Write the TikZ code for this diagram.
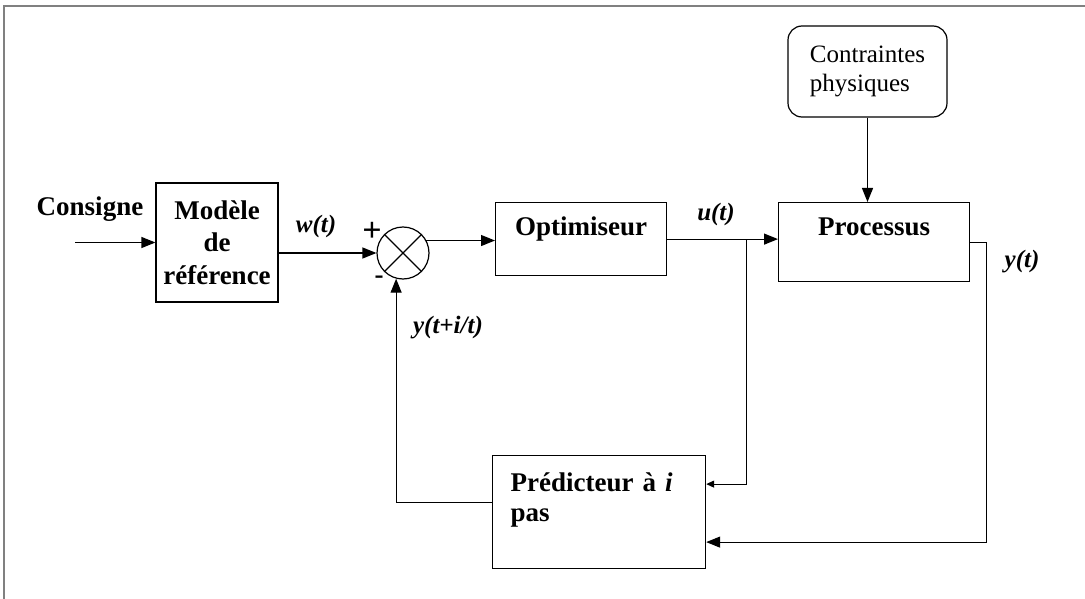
\documentclass[tikz,border=0pt]{standalone}
\usepackage{fontspec}
\setmainfont{Liberation Serif}
\usetikzlibrary{
  positioning,
  arrows.meta
}

\tikzset{
  bloc/.style={draw, line width=1.2pt, inner sep=0pt, font=\fontsize{27}{32.5}\selectfont\bfseries},
  lbl/.style={font=\fontsize{25}{29}\selectfont\bfseries\itshape, anchor=base},
  txt/.style={font=\fontsize{27}{32}\selectfont\bfseries},
  trait/.style={line width=1.2pt},
  fl/.style={line width=1.2pt, -{Triangle[length=14pt,width=11pt]}},
  flpetit/.style={line width=1.2pt, -{Triangle[length=8pt,width=7pt]}}
}

\begin{document}
\begin{tikzpicture}[x=1pt,y=-1pt]
        \useasboundingbox (0,0) rectangle (1085,599);
        \draw[black!50, line width=2pt] (1085,6) -- (4,6) -- (4,599);

        % blocs
        \node[bloc, minimum width=122pt, minimum height=119pt, align=center] (modele) at (217,242.5) {Modèle\\de\\référence};
        \node[draw, circle, line width=1.2pt, minimum size=52pt, inner sep=0pt] (som) at (403,253) {};
        \draw[trait] (som.45) -- (som.225) (som.135) -- (som.315);
        \node[bloc, anchor=north west, minimum width=171pt, text height=33pt, text depth=40pt] (opt) at (495,202) {Optimiseur};
        \node[bloc, anchor=north west, minimum width=191pt, text height=33pt, text depth=46pt] (proc) at (778,202) {Processus};
        \node[bloc, anchor=north west, inner xsep=18pt, text width=177pt, align=left, text height=36pt, text depth=77pt, font=\fontsize{27}{29.5}\selectfont\bfseries] (pred) at (492,455) {Prédicteur à \textit{i}\\pas};
        \node[draw, rounded corners=14pt, line width=1.2pt, minimum width=159pt, minimum height=91pt, align=left, font=\fontsize{25}{29}\selectfont] (contr) at (867.5,71.5) {Contraintes\\physiques};

        % textes
        \node[txt, anchor=base] (consigne) at (90,215) {Consigne};
        \node[lbl] (w) at (316,233) {w(t)};
        \node[txt, font=\fontsize{34}{36}\selectfont\bfseries] (plus) at (372,232) {+};
        \node[txt] (moins) at (379,280) {-};
        \node[lbl] (u) at (716,220) {u(t)};
        \node[lbl] (y) at (1022,267) {y(t)};
        \node[lbl] (ypred) at (448,333) {y(t+i/t)};

        % liaisons
        \coordinate (entree) at (75,242.5);
        \draw[fl] (entree) -- (modele);
        \draw[fl] (modele.east |- som) -- (som);
        \draw[fl] (som.28) -- (som.28 -| opt.west);
        \draw[fl] (opt.east) -- (opt.east -| proc.west) coordinate[pos=0.714] (branche);
        \draw[flpetit] (branche) |- ([yshift=28pt]pred.east);
        \draw[fl] (proc.east) -- ++(16,0) |- ([yshift=-30pt]pred.east);
        \draw[fl] ([yshift=10pt]pred.west) -| (som.255);
        \draw[fl] (contr) -- (contr |- proc.north);
    \end{tikzpicture}
\end{document}
